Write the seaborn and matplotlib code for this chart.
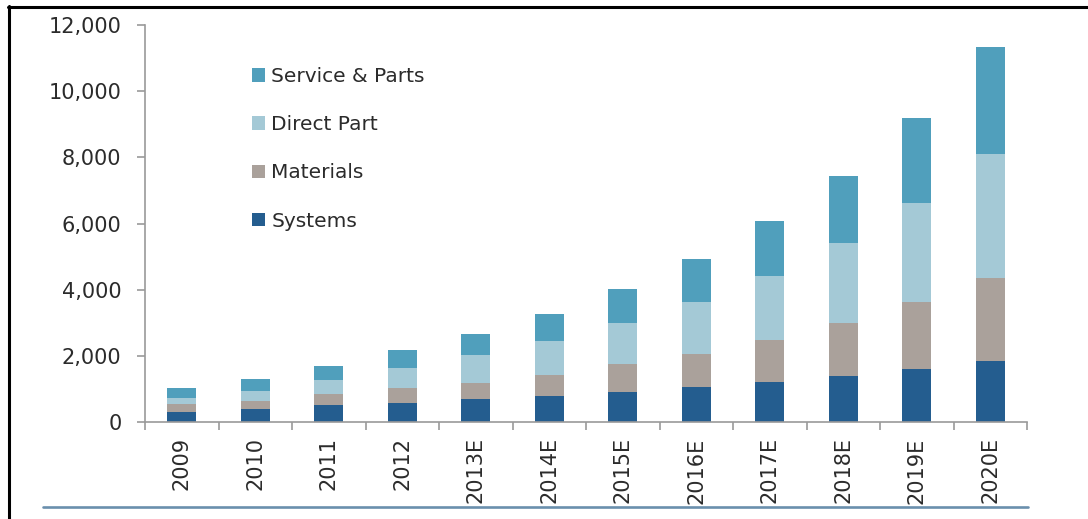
import matplotlib
matplotlib.use("Agg")
import matplotlib.pyplot as plt
from matplotlib.lines import Line2D
from matplotlib.patches import Patch
from matplotlib.ticker import FuncFormatter
import numpy as np
import seaborn as sns

# Market size by segment
years = ["2009", "2010", "2011", "2012", "2013E", "2014E", "2015E",
         "2016E", "2017E", "2018E", "2019E", "2020E"]
systems = [310, 383, 514, 585, 685, 776, 897, 1048, 1219, 1400, 1600, 1845]
materials = [220, 252, 322, 433, 484, 655, 846, 1008, 1250, 1600, 2015, 2520]
direct_part = [200, 302, 434, 624, 846, 1018, 1240, 1561, 1945, 2400, 2990, 3740]
service_parts = [300, 363, 423, 535, 655, 816, 1028, 1310, 1652, 2050, 2570, 3215]

segment_names = ["Systems", "Materials", "Direct Part", "Service & Parts"]
segment_colors = ["#245d8f", "#aaa19b", "#a4c9d6", "#509fbc"]

W, H = 1088, 519
sns.set_theme(style="white")
plt.rcParams["font.family"] = ["DejaVu Sans"]

fig = plt.figure(figsize=(W / 100, H / 100), dpi=100)
ax = fig.add_axes([145 / W, 1 - 422 / H, (1027 - 145) / W, (422 - 25) / H])

# Stacked bars: draw cumulative totals from the top layer down
layers = [systems, materials, direct_part, service_parts]
cum = np.cumsum(np.array(layers), axis=0)
for i in range(len(layers) - 1, -1, -1):
    sns.barplot(x=years, y=cum[i], color=segment_colors[i], width=0.4,
                saturation=1, errorbar=None, linewidth=0, ax=ax, order=years)

ax.set_xlim(-0.5, len(years) - 0.5)
ax.set_ylim(0, 12000)
ax.set_yticks(range(0, 12001, 2000))
ax.yaxis.set_major_formatter(FuncFormatter(lambda v, p: f"{int(v):,}"))
ax.set_xlabel("")
ax.set_ylabel("")

axis_gray = "#9a9a9a"
text_col = "#2b2b2b"
for side in ["top", "right"]:
    ax.spines[side].set_visible(False)
for side in ["left", "bottom"]:
    ax.spines[side].set_color(axis_gray)
    ax.spines[side].set_linewidth(1.2)

ax.set_xticks(range(len(years)))
ax.set_xticklabels(years, rotation=90, fontsize=15, color=text_col)
ax.tick_params(axis="x", which="major", length=0, pad=11)
ax.set_xticks(np.arange(-0.5, len(years), 1.0), minor=True)
ax.tick_params(axis="x", which="minor", length=6, width=1.2, color=axis_gray,
               direction="out", bottom=True)
ax.tick_params(axis="y", length=6, width=1.2, color=axis_gray, direction="out",
               left=True, pad=11, labelsize=15, labelcolor=text_col)

# Legend listed top layer first
handles = [Patch(facecolor=segment_colors[i], edgecolor="none")
           for i in range(len(layers) - 1, -1, -1)]
labels = [segment_names[i] for i in range(len(layers) - 1, -1, -1)]
ax.legend(handles, labels, loc="upper left",
          bbox_to_anchor=(252 / W, 1 - 67 / H), bbox_transform=fig.transFigure,
          frameon=False, fontsize=14.5, handlelength=0.65, handleheight=0.65,
          handletextpad=0.3, labelspacing=1.45, borderpad=0, borderaxespad=0,
          labelcolor=text_col)

# Page frame and rule under the chart
fig.add_artist(Line2D([8 / W, 1], [1 - 7 / H, 1 - 7 / H], color="black",
                      lw=2.2, transform=fig.transFigure))
fig.add_artist(Line2D([9 / W, 9 / W], [0, 1 - 6 / H], color="black",
                      lw=2.2, transform=fig.transFigure))
fig.add_artist(Line2D([43 / W, 1028 / W], [1 - 507 / H, 1 - 507 / H],
                      color="#6a8fad", lw=1.9, transform=fig.transFigure))

fig.savefig("out.png", dpi=100)
